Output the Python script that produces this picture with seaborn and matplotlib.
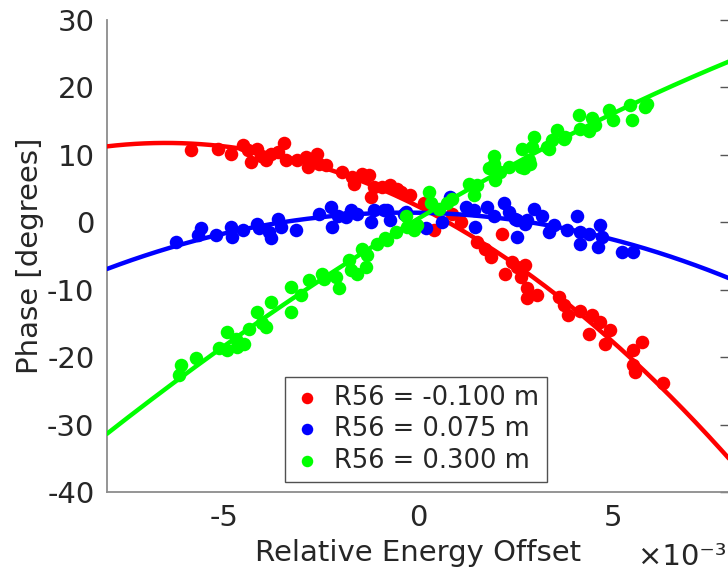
import numpy as np
import pandas as pd
import matplotlib
matplotlib.use("Agg")
import matplotlib.pyplot as plt
import seaborn as sns
from matplotlib.ticker import FuncFormatter

# energy offsets are given in units of 1e-3, phase in degrees
x_unit = 1e-3

red_x = [-5.85, -5.16, -4.82, -4.52, -4.39, -4.31, -4.14, -4.05, -3.92, -3.79,
         -3.62, -3.45, -3.41, -3.11, -2.90, -2.85, -2.72, -2.60, -2.56, -2.38,
         -1.96, -1.70, -1.66, -1.44, -1.27, -1.23, -1.15, -0.93, -0.72, -0.55,
         -0.46, -0.21, 0.14, 0.31, 0.39, 0.86, 1.08, 1.50, 1.72, 1.85,
         2.15, 2.23, 2.40, 2.53, 2.62, 2.74, 2.79, 2.79, 3.04, 3.60,
         3.73, 3.85, 4.15, 4.37, 4.45, 4.67, 4.79, 4.92, 5.52, 5.73,
         5.52, 5.56, 6.29]
red_y = [10.7, 10.9, 10.1, 11.4, 10.7, 8.9, 10.9, 9.9, 9.2, 10.2,
         10.4, 11.7, 9.3, 9.2, 9.7, 8.2, 8.9, 10.2, 8.7, 8.5,
         7.5, 6.7, 5.7, 7.2, 7.0, 3.8, 5.2, 5.2, 5.5, 5.0,
         4.5, 4.0, 2.8, 2.5, -1.2, 1.3, 0.0, -2.9, -3.9, -5.1,
         -1.8, -7.6, -5.9, -6.6, -8.1, -6.4, -9.8, -11.3, -10.8, -11.1,
         -12.3, -13.8, -13.1, -16.5, -13.8, -14.8, -18.0, -16.0, -19.0, -17.8,
         -21.2, -22.2, -23.9]

blue_x = [-6.23, -5.67, -5.59, -5.21, -4.82, -4.78, -4.52, -4.14, -4.10, -3.84,
          -3.79, -3.62, -3.54, -3.15, -2.56, -2.26, -2.21, -2.08, -1.87, -1.74,
          -1.57, -1.23, -1.15, -0.89, -0.72, -0.38, -0.80, -0.33, 0.18, 0.61,
          0.82, 1.21, 1.42, 1.46, 1.76, 1.93, 2.19, 2.32, 2.53, 2.53,
          2.79, 2.49, 2.74, 2.96, 3.17, 3.34, 3.47, 3.81, 4.07, 4.15,
          4.15, 4.37, 4.67, 4.71, 4.62, 5.22, 5.52]
blue_y = [-2.9, -1.9, -0.9, -1.9, -0.7, -2.2, -1.2, -0.2, -0.9, -1.4,
          -2.4, 0.5, -0.7, -1.2, 1.3, 2.3, -0.7, 1.0, 0.8, 1.8,
          1.3, 0.0, 1.8, 1.8, 0.3, 1.3, 1.8, 1.5, -0.9, 0.0,
          3.8, 2.3, 1.8, -0.7, 2.3, 1.0, 2.8, 1.5, -2.2, 0.3,
          0.3, 0.5, -0.2, 2.0, 1.0, -1.4, -0.4, -1.2, 1.0, -1.4,
          -3.2, -1.7, -0.4, -2.2, -3.7, -4.4, -4.4]

green_x = [-6.15, -6.10, -5.72, -5.12, -4.91, -4.91, -4.69, -4.65, -4.48, -4.35,
           -4.14, -4.01, -3.92, -3.79, -3.28, -3.28, -3.03, -2.81, -2.47, -2.43,
           -2.04, -2.13, -1.79, -1.74, -1.57, -1.44, -1.36, -1.32, -1.06, -0.80,
           -0.85, -0.59, -0.29, -0.12, -0.33, -0.03, 0.26, 0.31, 0.52, 0.74,
           0.86, 1.29, 1.50, 1.42, 1.80, 1.97, 2.10, 1.93, 2.32, 2.62,
           1.93, 2.66, 2.70, 2.83, 2.92, 2.96, 3.34, 3.43, 3.73, 3.56,
           2.87, 3.30, 3.77, 4.11, 4.15, 4.37, 4.45, 4.54, 4.88, 5.00,
           5.44, 5.48, 5.82, 5.86]
green_y = [-22.7, -21.2, -20.2, -18.7, -16.3, -19.0, -17.3, -18.5, -18.0, -15.8,
           -13.3, -15.0, -15.5, -11.8, -9.6, -13.3, -10.8, -8.6, -7.6, -8.4,
           -9.8, -8.1, -5.6, -7.1, -7.6, -3.9, -6.6, -4.9, -3.2, -2.7,
           -2.4, -1.4, -0.7, -1.2, 1.0, -0.4, 4.5, 2.8, 2.0, 2.8,
           3.5, 5.7, 5.5, 4.0, 8.0, 6.2, 7.5, 8.7, 8.2, 8.2,
           9.9, 10.9, 8.0, 9.2, 11.2, 12.7, 10.9, 12.2, 12.4, 13.7,
           8.7, 11.2, 12.7, 15.9, 13.9, 13.6, 15.4, 14.4, 16.6, 15.1,
           17.4, 15.1, 17.1, 17.6]

labels = ["R56 = -0.100 m", "R56 = 0.075 m", "R56 = 0.300 m"]
colors = ["#ff0000", "#0000ff", "#00ff00"]
yticks = [-40, -30, -20, -10, 0, 10, 20, 30]
xticks = [-5e-3, 0, 5e-3]

series = [(red_x, red_y), (blue_x, blue_y), (green_x, green_y)]

sns.set_style("white")
plt.rcParams["font.family"] = ["DejaVu Sans"]
plt.rcParams["axes.unicode_minus"] = False

fig = plt.figure(figsize=(7.28, 5.71), dpi=100)
ax = fig.add_axes([107 / 728, 79 / 571, 623 / 728, 472 / 571])

xgrid = np.linspace(-8e-3, 8e-3, 200)
for (xs, ys), lab, col in zip(series, labels, colors):
    df = pd.DataFrame({"x": np.array(xs) * x_unit, "y": ys})
    sns.scatterplot(data=df, x="x", y="y", color=col, s=95, linewidth=0,
                    ax=ax, label=lab, zorder=3)
    # quadratic fit, like the original analysis
    coef = np.polyfit(df["x"], df["y"], 2)
    fit = pd.DataFrame({"x": xgrid, "y": np.polyval(coef, xgrid)})
    sns.lineplot(data=fit, x="x", y="y", color=col, lw=3.2, ax=ax,
                 legend=False, zorder=3)

ax.set_xlim(-8e-3, 8e-3)
ax.set_ylim(-40, 30)
ax.set_xticks(xticks)
ax.set_yticks(yticks)
ax.xaxis.set_major_formatter(FuncFormatter(lambda v, p: f"{v / x_unit:g}"))

for side in ["top", "right"]:
    ax.spines[side].set_visible(False)
for side in ["left", "bottom"]:
    ax.spines[side].set_color("#8c8c8c")
    ax.spines[side].set_linewidth(1.3)

ax.tick_params(direction="in", length=7, width=1, color="#555555",
               labelsize=21, labelcolor="#262626", right=True, pad=9)

ax.text(0.995, -0.108, "×10⁻³", transform=ax.transAxes, ha="right", va="top",
        fontsize=21, color="#262626")

ax.set_xlabel("Relative Energy Offset", fontsize=21, color="#262626", labelpad=5)
ax.set_ylabel("Phase [degrees]", fontsize=21, color="#262626", labelpad=2)

leg = ax.legend(loc="upper left", bbox_to_anchor=(0.286, 0.244), fontsize=18.5,
                frameon=True, fancybox=False, edgecolor="#262626",
                borderaxespad=0, handletextpad=0.5, borderpad=0.3,
                labelspacing=0.22, handlelength=1.1, markerscale=0.85)
leg.get_frame().set_linewidth(1.0)

fig.savefig("out.png", dpi=100)
